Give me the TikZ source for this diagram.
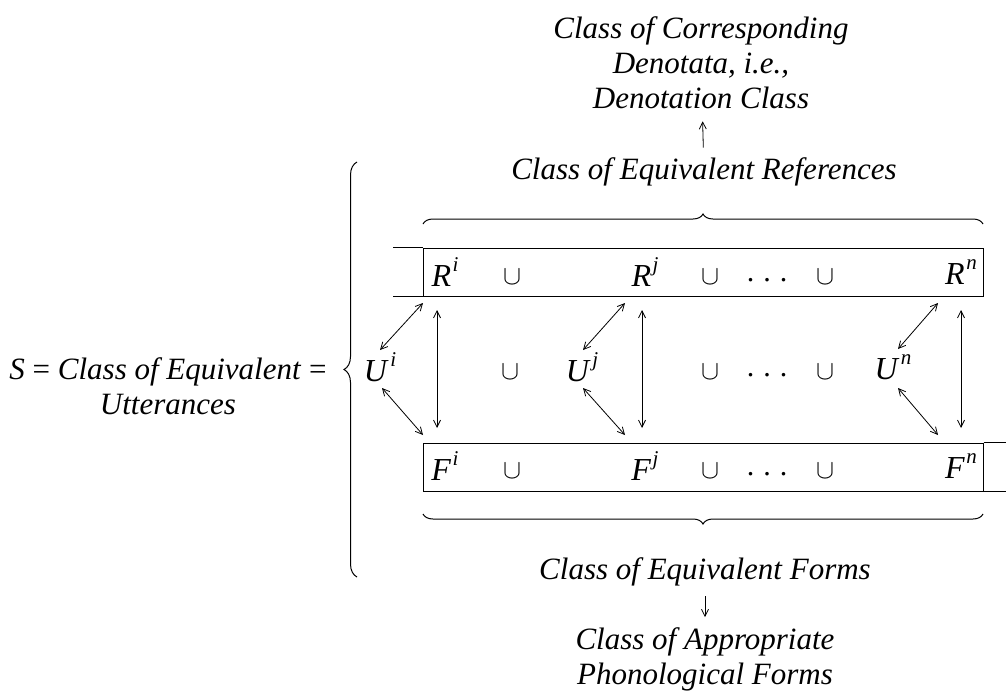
\documentclass[tikz,border=0pt]{standalone}
\usepackage{fix-cm}
\usepackage{fontspec}
\setmainfont{Liberation Serif}
\usetikzlibrary{decorations.pathreplacing,arrows.meta}
\newcommand{\vsym}[2]{\textit{#1}\hspace{1.5pt}\raisebox{0.48em}{\fontsize{21}{21}\selectfont\textit{#2}}}
\newcommand{\ucup}{{\fontsize{27}{27}\selectfont$\cup$}}
\newcommand{\tdots}{.\hspace{9pt}.\hspace{9pt}.}
\begin{document}
\begin{tikzpicture}[x=1pt,y=-1pt,
  txt/.style={font=\fontsize{31}{35}\selectfont\itshape, align=center, inner sep=0pt},
  sym/.style={font=\fontsize{32}{32}\selectfont, inner sep=0pt},
  op/.style={font=\fontsize{30}{30}\selectfont, inner sep=0pt},
  boxrow/.style={draw, line width=1pt, minimum width=560pt, minimum height=48pt, inner sep=0pt},
  arr/.style={-{Straight Barb[length=7pt,width=7pt]}, line width=0.8pt},
  darr/.style={{Straight Barb[length=7pt,width=7pt]}-{Straight Barb[length=7pt,width=7pt]}, line width=0.8pt},
  brc/.style={decorate, decoration={brace, amplitude=#1}, line width=1pt}]
\useasboundingbox (0,0) rectangle (1006,691);

% top texts
\node[txt] (denot) at (701,63) {Class of Corresponding\\Denotata, i.e.,\\Denotation Class};
\node[txt] (refs) at (704,172) {Class of Equivalent References};
\draw[arr, shorten <=10pt, shorten >=12pt] (refs) -- (denot);

% braces
\draw[brc=10pt] (423,224) -- (983,224);
\draw[brc=10pt] (983,514) -- (423,514);
\draw[brc=13pt] (357,577) -- (357,162);

% boxes
\node[boxrow] (Rbox) at (703,272) {};
\node[boxrow] (Fbox) at (703,467) {};
\draw[line width=1pt] (Rbox.north west) -- ++(-30,0);
\draw[line width=1pt] (Rbox.south west) -- ++(-30,0);
\draw[line width=1pt] (Fbox.north east) -- ++(23,0);
\draw[line width=1pt] (Fbox.south east) -- ++(23,0);

% R row
\node[sym] (Ri) at (445,272) {\vsym{R}{i}};
\node[op] (rc1) at (512,277) {\ucup};
\node[sym] (Rj) at (645,272) {\vsym{R}{j}};
\node[op] (rc2) at (710,277) {\ucup};
\node[op] (rd) at (767,280) {\tdots};
\node[op] (rc3) at (825,277) {\ucup};
\node[sym] (Rn) at (961,272) {\vsym{R}{n}};

% U row
\node[sym] (Ui) at (380,367) {\vsym{U}{i}};
\node[op] (uc1) at (510,372) {\ucup};
\node[sym] (Uj) at (582,367) {\vsym{U}{j}};
\node[op] (uc2) at (710,372) {\ucup};
\node[op] (ud) at (767,375) {\tdots};
\node[op] (uc3) at (825,372) {\ucup};
\node[sym] (Un) at (893,367) {\vsym{U}{n}};

% F row
\node[sym] (Fi) at (445,466) {\vsym{F}{i}};
\node[op] (fc1) at (512,471) {\ucup};
\node[sym] (Fj) at (645,466) {\vsym{F}{j}};
\node[op] (fc2) at (710,471) {\ucup};
\node[op] (fd) at (767,474) {\tdots};
\node[op] (fc3) at (825,471) {\ucup};
\node[sym] (Fn) at (961,466) {\vsym{F}{n}};

% connector end points
\coordinate (ti) at (423,303); \coordinate (bi) at (423,435);
\coordinate (tj) at (625,303); \coordinate (bj) at (625,435);
\coordinate (tn) at (938,303); \coordinate (bn) at (938,435);
\coordinate (vi1) at (437,310); \coordinate (vi2) at (437,428);
\coordinate (vj1) at (642,310); \coordinate (vj2) at (642,428);
\coordinate (vn1) at (961,310); \coordinate (vn2) at (961,428);
\coordinate (uia) at (380,350); \coordinate (uib) at (382,388);
\coordinate (uja) at (583,350); \coordinate (ujb) at (583,388);
\coordinate (una) at (898,349); \coordinate (unb) at (898,388);

\draw[darr] (uia) -- (ti);
\draw[darr] (uib) -- (bi);
\draw[darr] (vi1) -- (vi2);
\draw[darr] (uja) -- (tj);
\draw[darr] (ujb) -- (bj);
\draw[darr] (vj1) -- (vj2);
\draw[darr] (una) -- (tn);
\draw[darr] (unb) -- (bn);
\draw[darr] (vn1) -- (vn2);

% left text
\node[txt] (S) at (168,386) {\textit{S} \textup{=} Class of Equivalent \textup{=}\\Utterances};

% bottom texts
\node[txt] (forms) at (705,572) {Class of Equivalent Forms};
\node[txt] (phon) at (705,659) {Class of Appropriate\\Phonological Forms};
\draw[arr, shorten <=10pt, shorten >=10pt] (forms) -- (phon);
\end{tikzpicture}
\end{document}
